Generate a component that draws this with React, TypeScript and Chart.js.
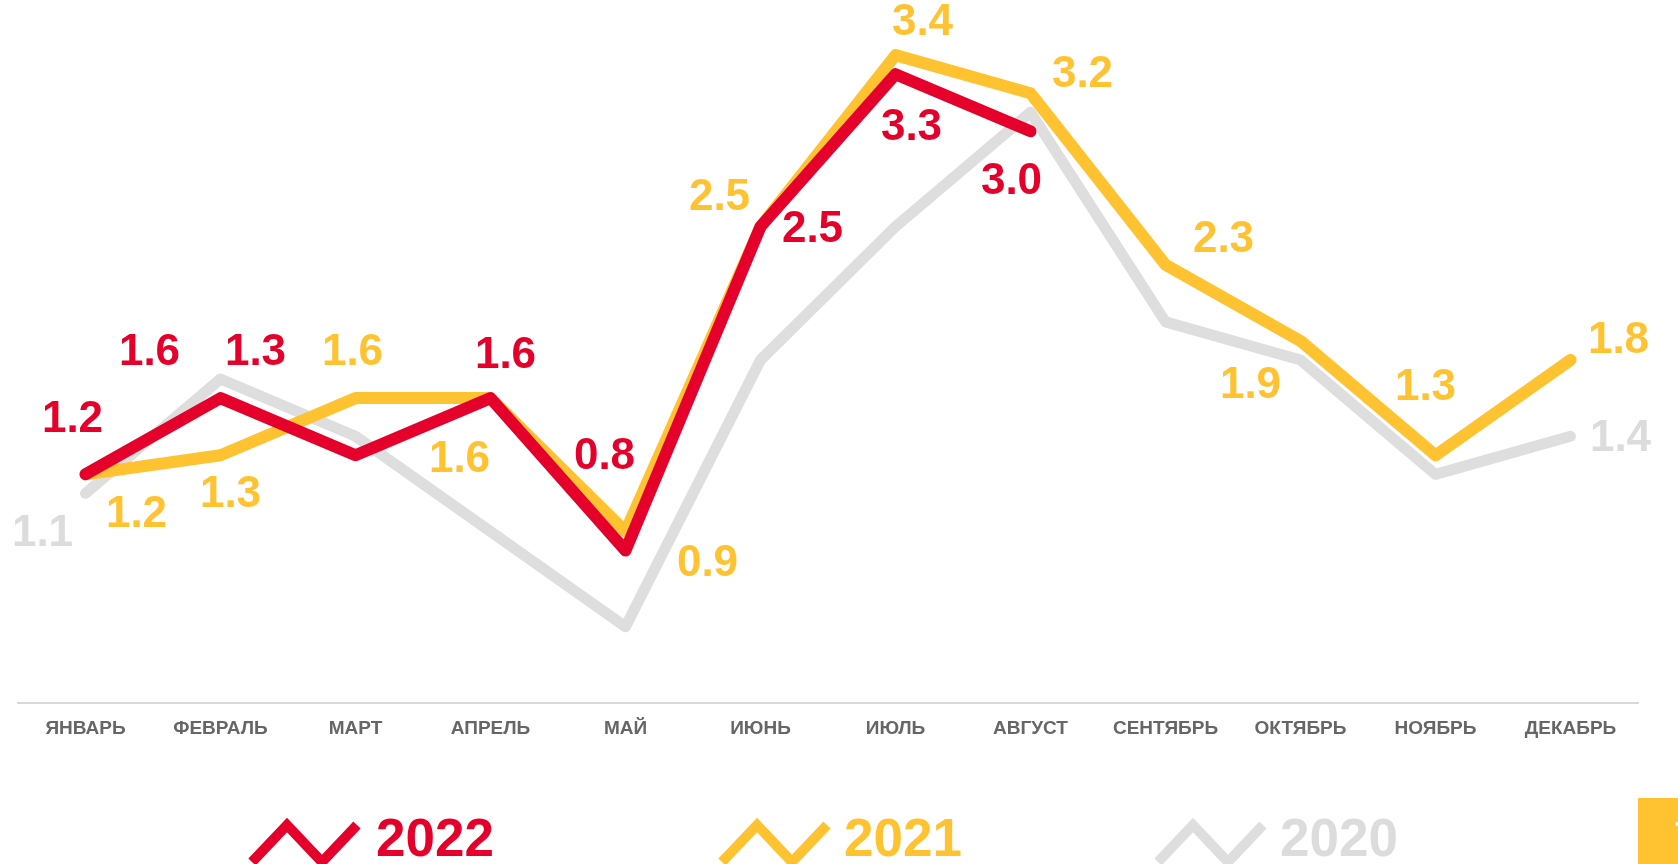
import React, { useEffect, useRef } from "react";
import { Chart, registerables } from "chart.js";

Chart.register(...registerables);

const months = [
  "ЯНВАРЬ", "ФЕВРАЛЬ", "МАРТ", "АПРЕЛЬ", "МАЙ", "ИЮНЬ",
  "ИЮЛЬ", "АВГУСТ", "СЕНТЯБРЬ", "ОКТЯБРЬ", "НОЯБРЬ", "ДЕКАБРЬ",
];
const values2022 = [1.2, 1.6, 1.3, 1.6, 0.8, 2.5, 3.3, 3.0];
const values2021 = [1.2, 1.3, 1.6, 1.6, 0.9, 2.5, 3.4, 3.2, 2.3, 1.9, 1.3, 1.8];
const values2020 = [1.1, 1.7, 1.4, 0.9, 0.4, 1.8, 2.5, 3.1, 2.0, 1.8, 1.2, 1.4];
const seriesNames = ["2022", "2021", "2020"];

// label offsets (dx, dy) from each point; null = no label
const labelOffsets2022 = [[-13, -54], [-71, -45], [-100, -102], [15, -42], [-21, -94], [52, 3], [16, 54], [-19, 51]];
const labelOffsets2021 = [[51, 41], [10, 40], [-3, -45], [-31, 62], [82, 32], [-41, -29], [27, -32], [52, -18], [58, -25], [-50, 45], [-10, -67], [48, -19]];
const labelOffsets2020 = [[-43, 40], null, null, null, null, null, null, null, null, null, null, [50, 3]];

const RED = "#E4002B";
const YELLOW = "#FFC331";
const GRAY = "#DEDEDE";
const GRAY_TEXT = "#DCDCDC";
const FONT = "'Liberation Sans', Arial, sans-serif";

const labelPlugin = {
  id: "valueLabels",
  afterDatasetsDraw(chart: any) {
    const ctx = chart.ctx;
    const offsets = [labelOffsets2022, labelOffsets2021, labelOffsets2020];
    const colors = [RED, YELLOW, GRAY_TEXT];
    ctx.save();
    ctx.font = `bold 44px ${FONT}`;
    ctx.textAlign = "center";
    ctx.textBaseline = "middle";
    [2, 1, 0].forEach((di) => {
      const meta = chart.getDatasetMeta(di);
      const data = chart.data.datasets[di].data;
      meta.data.forEach((pt: any, j: number) => {
        const off = offsets[di][j];
        if (!off || data[j] == null) return;
        ctx.fillStyle = colors[di];
        ctx.fillText(Number(data[j]).toFixed(1), pt.x + off[0], pt.y + off[1]);
      });
    });
    ctx.restore();
  },
};

const legendItems = [
  { name: seriesNames[0], color: RED, iconLeft: 245, textLeft: 376 },
  { name: seriesNames[1], color: YELLOW, iconLeft: 715, textLeft: 844 },
  { name: seriesNames[2], color: GRAY, iconLeft: 1151, textLeft: 1280 },
];

export default function App() {
  const canvasRef = useRef<HTMLCanvasElement | null>(null);

  useEffect(() => {
    if (!canvasRef.current) return;
    const chart = new Chart(canvasRef.current, {
      type: "line",
      data: {
        labels: months,
        datasets: [
          {
            label: seriesNames[0],
            data: values2022,
            borderColor: RED,
            borderWidth: 12,
            pointRadius: 0,
            borderCapStyle: "round",
            borderJoinStyle: "round",
            tension: 0,
            order: 0,
          },
          {
            label: seriesNames[1],
            data: values2021,
            borderColor: YELLOW,
            borderWidth: 12,
            pointRadius: 0,
            borderCapStyle: "round",
            borderJoinStyle: "round",
            tension: 0,
            order: 1,
          },
          {
            label: seriesNames[2],
            data: values2020,
            borderColor: GRAY,
            borderWidth: 11,
            pointRadius: 0,
            borderCapStyle: "round",
            borderJoinStyle: "round",
            tension: 0,
            order: 2,
          },
        ],
      },
      options: {
        responsive: false,
        animation: false,
        layout: { padding: { left: 18, right: 40, top: 17, bottom: 121 } },
        plugins: {
          legend: { display: false },
          tooltip: { enabled: false },
        },
        scales: {
          x: {
            offset: true,
            grid: { display: false, drawTicks: false },
            border: { display: true, color: "#D9D9D9", width: 2 },
            ticks: {
              color: "#666666",
              font: { family: FONT, size: 19, weight: "bold" },
              padding: 14,
              maxRotation: 0,
              autoSkip: false,
            },
            afterFit: (scale: any) => {
              scale.height = 40;
            },
          },
          y: {
            display: false,
            min: 0,
            max: 3.6,
          },
        },
      },
      plugins: [labelPlugin],
    });
    return () => chart.destroy();
  }, []);

  return (
    <div
      style={{
        position: "fixed",
        left: 0,
        top: 0,
        width: 1678,
        height: 864,
        overflow: "hidden",
        background: "#ffffff",
      }}
    >
      <canvas ref={canvasRef} width={1678} height={864} style={{ position: "absolute", left: 0, top: 0 }} />
      {legendItems.map((it) => (
        <React.Fragment key={it.name}>
          <svg
            width={120}
            height={50}
            style={{ position: "absolute", left: it.iconLeft, top: 816 }}
          >
            <polyline
              points="7,46 42,9 77,46 112,9"
              fill="none"
              stroke={it.color}
              strokeWidth={10}
              strokeLinejoin="miter"
            />
          </svg>
          <div
            style={{
              position: "absolute",
              left: it.textLeft,
              top: 811,
              fontFamily: FONT,
              fontWeight: "bold",
              fontSize: 53,
              lineHeight: "53px",
              color: it.color === GRAY ? GRAY_TEXT : it.color,
              whiteSpace: "nowrap",
            }}
          >
            {it.name}
          </div>
        </React.Fragment>
      ))}
      <div
        style={{
          position: "absolute",
          left: 1638,
          top: 798,
          width: 40,
          height: 66,
          background: YELLOW,
        }}
      >
        <div style={{ position: "absolute", left: 38, top: 24, width: 2, height: 4, background: "#ffffff" }} />
      </div>
    </div>
  );
}
